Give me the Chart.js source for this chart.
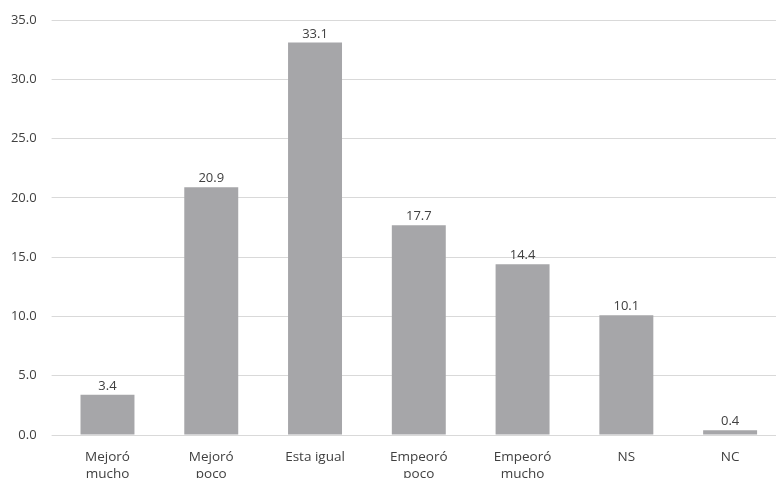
<!DOCTYPE html>
<html>
<head>
<meta charset="utf-8">
<script src="https://cdn.jsdelivr.net/npm/chart.js@4"></script>
<style>
  html, body { margin: 0; padding: 0; background: #fff; overflow: hidden; }
  #wrap { width: 784px; height: 486px; position: relative; }
</style>
</head>
<body>
<div id="wrap"><canvas id="chart"></canvas></div>
<script>
const categories = [['Mejoró', 'mucho'], ['Mejoró', 'poco'], 'Esta igual', ['Empeoró', 'poco'], ['Empeoró', 'mucho'], 'NS', 'NC']
const values = [3.4, 20.9, 33.1, 17.7, 14.4, 10.1, 0.4]
const yMax = 35
const yStep = 5

const barColor = '#a6a6a9'
const textColor = '#404040'
const fontFamily = '"Open Sans", Lato, sans-serif'

// draw the value above each bar
const valueLabels = {
    id: 'valueLabels',
    afterDatasetsDraw(chart) {
        const ctx = chart.ctx
        const meta = chart.getDatasetMeta(0)
        ctx.save()
        ctx.fillStyle = textColor
        ctx.font = '13px ' + fontFamily
        ctx.textAlign = 'center'
        ctx.textBaseline = 'alphabetic'
        meta.data.forEach((bar, i) => {
            ctx.fillText(values[i].toFixed(1), bar.x, bar.y - 5)
        })
        ctx.restore()
    }
}

new Chart(document.getElementById('chart'), {
    type: 'bar',
    data: {
        labels: categories,
        datasets: [{
            data: values,
            backgroundColor: barColor,
            barPercentage: 0.52,
            categoryPercentage: 1
        }]
    },
    options: {
        responsive: true,
        maintainAspectRatio: false,
        animation: false,
        layout: { padding: { top: 20, right: 2, left: 0, bottom: 0 } },
        plugins: {
            legend: { display: false },
            tooltip: { enabled: false }
        },
        scales: {
            x: {
                grid: { display: false, drawTicks: false },
                border: { color: '#d9d9d9', width: 1 },
                ticks: {
                    color: textColor,
                    font: { family: fontFamily, size: 13.5, lineHeight: 1.25 },
                    padding: 14,
                    maxRotation: 0,
                    autoSkip: false
                },
                afterFit: scale => { scale.height = 51 }
            },
            y: {
                min: 0,
                max: yMax,
                grid: { color: '#d9d9d9', tickLength: 4, tickColor: '#d9d9d9' },
                border: { display: false },
                ticks: {
                    stepSize: yStep,
                    color: textColor,
                    font: { family: fontFamily, size: 13 },
                    padding: 15,
                    callback: v => v.toFixed(1)
                },
                afterFit: scale => {
                    scale.width = 55.6
                    scale.paddingTop = 0
                    scale.paddingBottom = 0
                }
            }
        }
    },
    plugins: [valueLabels]
})
</script>
</body>
</html>
